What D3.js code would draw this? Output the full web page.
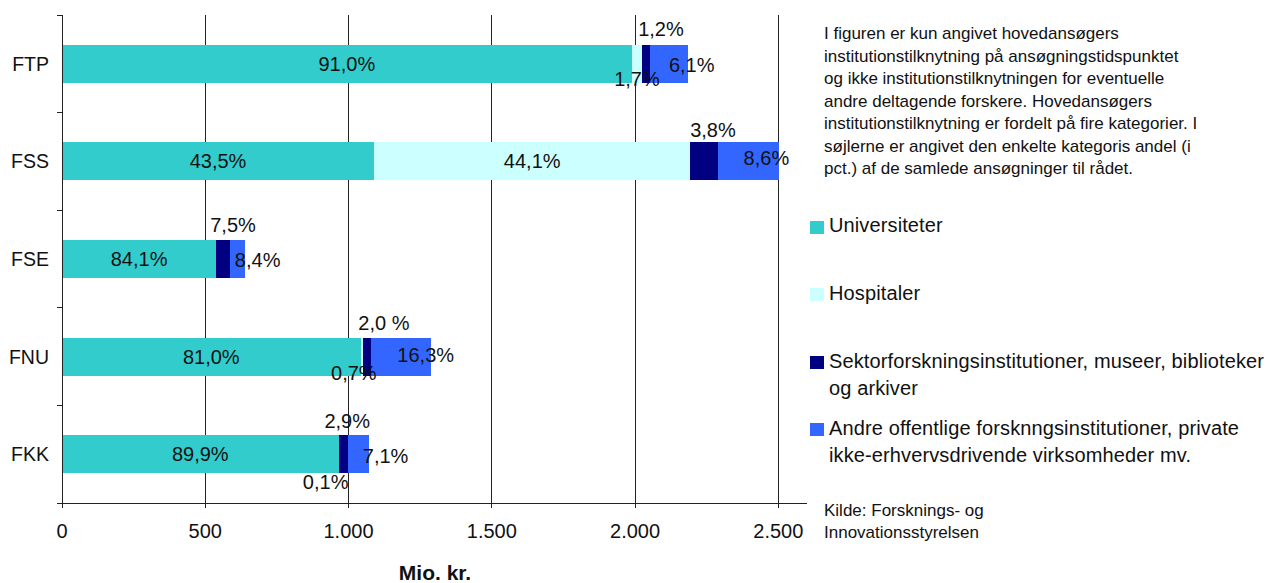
<!DOCTYPE html>
<html>
<head>
<meta charset="utf-8">
<script src="https://cdn.jsdelivr.net/npm/d3@7"></script>
<style>
  html, body { margin: 0; padding: 0; background: #fff; }
  svg { display: block; font-family: "Liberation Sans", Arial, sans-serif; }
</style>
</head>
<body>
<svg id="chart" width="1271" height="583"></svg>
<script>
// ---------- data ----------
const categories = ["FTP", "FSS", "FSE", "FNU", "FKK"];
const seriesNames = [
  "Universiteter",
  "Hospitaler",
  "Sektorforskningsinstitutioner, museer, biblioteker og arkiver",
  "Andre offentlige forskningsinstitutioner, private ikke-erhvervsdrivende virksomheder mv."
];
// values in mio. kr.
const universiteter = [1988, 1089, 538, 1042, 965];
const hospitaler    = [37, 1104, 0, 9, 1];
const sektor        = [26, 95, 48, 26, 31];
const andre         = [133, 215, 54, 210, 76];
// data labels (share of the council's total)
const univLabels   = ["91,0%", "43,5%", "84,1%", "81,0%", "89,9%"];
const hospLabels   = ["1,7%", "44,1%", "", "0,7%", "0,1%"];
const sektorLabels = ["1,2%", "3,8%", "7,5%", "2,0 %", "2,9%"];
const andreLabels  = ["6,1%", "8,6%", "8,4%", "16,3%", "7,1%"];
const xTicks = [0, 500, 1000, 1500, 2000, 2500];
const xTickLabels = ["0", "500", "1.000", "1.500", "2.000", "2.500"];
const xTitle = "Mio. kr.";
const noteLines = [
  "I figuren er kun angivet hovedansøgers",
  "institutionstilknytning på ansøgningstidspunktet",
  "og ikke institutionstilknytningen for eventuelle",
  "andre deltagende forskere. Hovedansøgers",
  "institutionstilknytning er fordelt på fire kategorier. I",
  "søjlerne er angivet den enkelte kategoris andel (i",
  "pct.) af de samlede ansøgninger til rådet."
];
const legendLines = [
  ["Universiteter"],
  ["Hospitaler"],
  ["Sektorforskningsinstitutioner, museer, biblioteker", "og arkiver"],
  ["Andre offentlige forsknngsinstitutioner, private", "ikke-erhvervsdrivende virksomheder mv."]
];
const sourceLines = ["Kilde: Forsknings- og", "Innovationsstyrelsen"];

// ---------- styling / layout ----------
const colors = ["#33CCCC", "#CCFFFF", "#000080", "#3366FF"];
const svg = d3.select("#chart");
const plot = { left: 62, right: 807, top: 15, bottom: 503 };

const x = d3.scaleLinear().domain([0, 2600]).range([plot.left, plot.right]);
const y = d3.scaleBand().domain(categories).range([plot.top, plot.bottom])
  .paddingInner(0.61).paddingOuter(0.305);

// label offset tweaks (layout only)
const hospOffsets   = [[0, 3], null, null, [-8, 4], [-13, 16]];
const sektorOffsets = [[15, -9], [9, -5], [10, -8], [17, -8], [4, -7]];
const andreOffsets  = [[23, 8], [18, 4], [20, 8], [25, 5], [27, 9]];

// gridlines
svg.append("g").selectAll("line").data(xTicks.filter(d => d > 0)).join("line")
  .attr("x1", d => x(d)).attr("x2", d => x(d))
  .attr("y1", plot.top).attr("y2", plot.bottom)
  .attr("stroke", "#222").attr("stroke-width", 1).attr("shape-rendering", "crispEdges");

// stacked bars
const seriesData = [universiteter, hospitaler, sektor, andre];
const rows = categories.map((c, i) => {
  const r = { cat: c };
  seriesNames.forEach((s, k) => r[s] = seriesData[k][i]);
  return r;
});
const stacked = d3.stack().keys(seriesNames)(rows);

svg.append("g").selectAll("g").data(stacked).join("g")
  .attr("fill", (d, i) => colors[i])
  .selectAll("rect").data(d => d).join("rect")
  .attr("x", d => x(d[0]))
  .attr("width", d => Math.max(0, x(d[1]) - x(d[0])))
  .attr("y", d => y(d.data.cat))
  .attr("height", y.bandwidth())
  .attr("shape-rendering", "crispEdges");

// axes
const axisG = svg.append("g").attr("stroke", "#222").attr("shape-rendering", "crispEdges");
axisG.append("line").attr("x1", plot.left).attr("x2", plot.left)
  .attr("y1", plot.top).attr("y2", plot.bottom);
axisG.append("line").attr("x1", plot.left - 5).attr("x2", plot.right)
  .attr("y1", plot.bottom).attr("y2", plot.bottom);
const yBounds = categories.map(c => y(c) - y.step() * y.paddingInner() / 2);
axisG.selectAll(".yt").data(yBounds).join("line")
  .attr("x1", plot.left - 5).attr("x2", plot.left)
  .attr("y1", d => d).attr("y2", d => d);
axisG.selectAll(".xt").data(xTicks).join("line")
  .attr("x1", d => x(d)).attr("x2", d => x(d))
  .attr("y1", plot.bottom).attr("y2", plot.bottom + 5);

const textColor = "#111";
svg.append("g").selectAll("text").data(xTicks).join("text")
  .attr("x", d => x(d)).attr("y", 538)
  .attr("text-anchor", "middle").attr("font-size", 20).attr("fill", textColor)
  .text((d, i) => xTickLabels[i]);

svg.append("text").attr("x", 435).attr("y", 580).attr("text-anchor", "middle")
  .attr("font-size", 21).attr("font-weight", "bold").attr("fill", textColor).text(xTitle);

// category labels
svg.append("g").selectAll("text").data(categories).join("text")
  .attr("x", 49).attr("y", d => y(d) + y.bandwidth() / 2 + 7)
  .attr("text-anchor", "end").attr("font-size", 19.5).attr("fill", textColor)
  .text(d => d);

// data labels
const lbl = svg.append("g").attr("font-size", 20).attr("fill", textColor).attr("text-anchor", "middle");
const segCenter = (k, i) => (x(stacked[k][i][0]) + x(stacked[k][i][1])) / 2;
categories.forEach((c, i) => {
  const top = y(c), bot = y(c) + y.bandwidth(), mid = top + y.bandwidth() / 2;
  lbl.append("text").attr("x", segCenter(0, i)).attr("y", mid + 7).text(univLabels[i]);
  if (hospLabels[i]) {
    if (hospOffsets[i]) {
      lbl.append("text").attr("x", segCenter(1, i) + hospOffsets[i][0])
        .attr("y", bot + hospOffsets[i][1]).text(hospLabels[i]);
    } else {
      lbl.append("text").attr("x", segCenter(1, i)).attr("y", mid + 7).text(hospLabels[i]);
    }
  }
  lbl.append("text").attr("x", segCenter(2, i) + sektorOffsets[i][0])
    .attr("y", top + sektorOffsets[i][1]).text(sektorLabels[i]);
  lbl.append("text").attr("x", segCenter(3, i) + andreOffsets[i][0])
    .attr("y", mid + andreOffsets[i][1]).text(andreLabels[i]);
});

// note
svg.append("g").selectAll("text").data(noteLines).join("text")
  .attr("x", 824).attr("y", (d, i) => 39 + i * 22.5)
  .attr("font-size", 17).attr("fill", textColor).text(d => d);

// legend
const legendSquareY = [221, 288, 356, 423];
const legendBaseY = [232, 300, 368, 435];
const lg = svg.append("g");
legendLines.forEach((lines, k) => {
  lg.append("rect").attr("x", 810).attr("y", legendSquareY[k]).attr("width", 14).attr("height", 13)
    .attr("fill", colors[k]);
  lines.forEach((t, j) => {
    lg.append("text").attr("x", 829).attr("y", legendBaseY[k] + j * 26.5)
      .attr("font-size", 20).attr("letter-spacing", 0.12).attr("fill", textColor).text(t);
  });
});

// source
svg.append("g").selectAll("text").data(sourceLines).join("text")
  .attr("x", 824).attr("y", (d, i) => 516 + i * 22)
  .attr("font-size", 17).attr("fill", textColor).text(d => d);
</script>
</body>
</html>
